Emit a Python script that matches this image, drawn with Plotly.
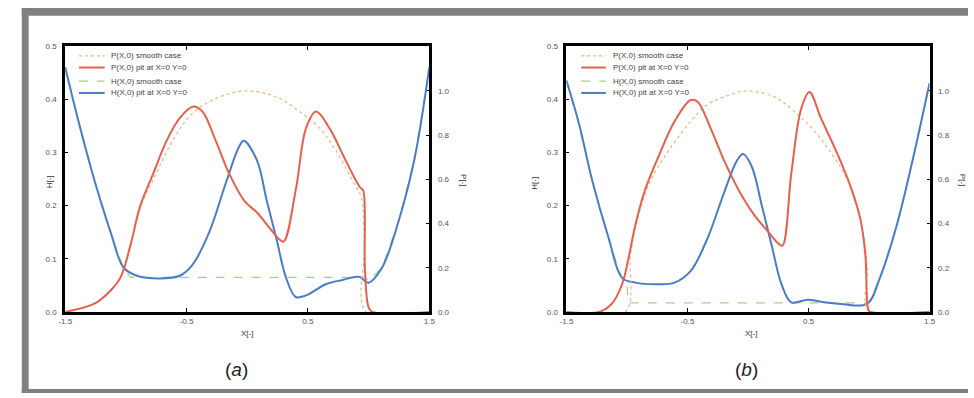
import plotly.graph_objects as go

W, H = 974, 398

# ---------------- data: panel (a) ----------------
a_hpit_x = [-1.5, -1.397, -1.26, -1.126, -1.018, -0.909, -0.72, -0.557, -0.45, -0.313, -0.177, -0.069, -0.03,
            0.08, 0.16, 0.24, 0.32, 0.40, 0.485, 0.647, 0.785, 0.92, 1.0, 1.11, 1.245, 1.38, 1.5]
a_hpit_y = [0.46, 0.364, 0.248, 0.15, 0.083, 0.068, 0.063, 0.068, 0.089, 0.15, 0.242, 0.31, 0.322,
            0.285, 0.21, 0.138, 0.064, 0.028, 0.031, 0.052, 0.06, 0.066, 0.055, 0.083, 0.169, 0.29, 0.46]

a_hsm_x = [-1.5, -1.397, -1.26, -1.126, -1.018, -0.96, 0.97, 1.0, 1.11, 1.245, 1.38, 1.5]
a_hsm_y = [0.46, 0.364, 0.248, 0.15, 0.08, 0.065, 0.065, 0.058, 0.083, 0.169, 0.29, 0.46]

a_ppit_x = [-1.5, -1.26, -1.126, -1.045, -0.963, -0.882, -0.774, -0.665, -0.557, -0.449, -0.37, -0.259, -0.15,
            -0.02, 0.08, 0.19, 0.26, 0.30, 0.40, 0.485, 0.567, 0.676, 0.785, 0.893, 0.933, 0.955, 0.97, 1.0, 1.03, 1.5]
a_ppit_y = [0.0, 0.037, 0.097, 0.155, 0.30, 0.48, 0.627, 0.774, 0.877, 0.929, 0.907, 0.774, 0.627,
            0.50, 0.45, 0.376, 0.33, 0.318, 0.553, 0.833, 0.907, 0.833, 0.715, 0.597, 0.561, 0.55, 0.186, 0.02, 0.0, 0.0]

a_psm_x = [-1.5, -1.26, -1.126, -1.045, -0.963, -0.882, -0.774, -0.584, -0.449, -0.259, -0.02, 0.24, 0.43,
           0.595, 0.73, 0.893, 0.94, 0.965, 0.98, 1.5]
a_psm_y = [0.0, 0.037, 0.097, 0.155, 0.30, 0.47, 0.60, 0.804, 0.90, 0.966, 1.0, 0.973, 0.907,
           0.833, 0.73, 0.568, 0.52, 0.3, 0.0, 0.0]

# ---------------- data: panel (b) ----------------
b_hpit_x = [-1.5, -1.394, -1.288, -1.15, -1.04, -0.93, -0.742, -0.606, -0.473, -0.335, -0.198, -0.09, -0.04,
            0.032, 0.114, 0.195, 0.277, 0.358, 0.494, 0.627, 0.766, 0.983, 1.09, 1.228, 1.36, 1.5]
b_hpit_y = [0.435, 0.352, 0.248, 0.138, 0.064, 0.055, 0.052, 0.055, 0.077, 0.138, 0.224, 0.285, 0.297,
            0.273, 0.2, 0.126, 0.052, 0.018, 0.023, 0.018, 0.015, 0.015, 0.064, 0.162, 0.285, 0.43]

b_hsm_x = [-1.5, -1.394, -1.288, -1.15, -1.04, -1.0, -0.99, 1.0, 1.09, 1.228, 1.36, 1.5]
b_hsm_y = [0.435, 0.35, 0.245, 0.135, 0.062, 0.055, 0.017, 0.017, 0.064, 0.162, 0.285, 0.43]

b_ppit_x = [-1.5, -1.23, -1.125, -1.04, -0.987, -0.932, -0.85, -0.742, -0.606, -0.473, -0.416, -0.31, -0.198,
            -0.04, 0.057, 0.168, 0.25, 0.285, 0.358, 0.44, 0.508, 0.603, 0.739, 0.847, 0.929, 0.97, 0.994, 1.01, 1.5]
b_ppit_y = [0, 0, 0.037, 0.125, 0.243, 0.39, 0.553, 0.70, 0.863, 0.959, 0.951, 0.833, 0.686,
            0.515, 0.435, 0.362, 0.31, 0.30, 0.627, 0.92, 0.995, 0.877, 0.715, 0.568, 0.42, 0.258, 0.01, 0, 0]

b_psm_x = [-1.5, -1.013, -0.97, -0.905, -0.8, -0.636, -0.473, -0.335, -0.198, -0.02, 0.22, 0.413, 0.548,
           0.711, 0.847, 0.95, 0.985, 1.0, 1.5]
b_psm_y = [0, 0, 0.26, 0.435, 0.6, 0.745, 0.863, 0.938, 0.973, 1.0, 0.973, 0.892, 0.819,
           0.70, 0.568, 0.36, 0.2, 0, 0]

legend_names = ["P(X,0) smooth case", "P(X,0) pit at X=0 Y=0",
                "H(X,0) smooth case", "H(X,0) pit at X=0 Y=0"]
x_ticks = [-1.5, -0.5, 0.5, 1.5]
h_ticks = [0.0, 0.1, 0.2, 0.3, 0.4, 0.5]
p_ticks = [0.0, 0.2, 0.4, 0.6, 0.8, 1.0]

C_PSM = "#f5b07c"
C_PPIT = "#e8604c"
C_HSM = "#a6cf8a"
C_HPIT = "#4a7cc8"
STYLES = [(C_PSM, 1.2, "dot"), (C_PPIT, 2, "solid"), (C_HSM, 1.2, "dash"), (C_HPIT, 2, "solid")]

FONT = "Liberation Sans, Arial, sans-serif"


def px(x):
    return x / W


def py(y):
    return 1 - y / H


fig = go.Figure()


def add_panel(xa, ya_l, ya_r, psm, ppit, hsm, hpit):
    fig.add_trace(go.Scatter(x=psm[0], y=psm[1], xaxis=xa, yaxis=ya_r, mode="lines", name=legend_names[0],
                             line=dict(color=C_PSM, width=1.2, dash="dot", shape="spline", smoothing=1.0)))
    fig.add_trace(go.Scatter(x=ppit[0], y=ppit[1], xaxis=xa, yaxis=ya_r, mode="lines", name=legend_names[1],
                             line=dict(color=C_PPIT, width=2, shape="spline", smoothing=1.0)))
    fig.add_trace(go.Scatter(x=hsm[0], y=hsm[1], xaxis=xa, yaxis=ya_l, mode="lines", name=legend_names[2],
                             line=dict(color=C_HSM, width=1.2, dash="dash")))
    fig.add_trace(go.Scatter(x=hpit[0], y=hpit[1], xaxis=xa, yaxis=ya_l, mode="lines", name=legend_names[3],
                             line=dict(color=C_HPIT, width=2, shape="spline", smoothing=1.0)))


add_panel("x", "y", "y2", (a_psm_x, a_psm_y), (a_ppit_x, a_ppit_y), (a_hsm_x, a_hsm_y), (a_hpit_x, a_hpit_y))
add_panel("x2", "y3", "y4", (b_psm_x, b_psm_y), (b_ppit_x, b_ppit_y), (b_hsm_x, b_hsm_y), (b_hpit_x, b_hpit_y))

tickfont = dict(family=FONT, size=8, color="#555")
ydom = [py(315), py(43)]


def xaxis(dom, yanchor):
    return dict(domain=dom, anchor=yanchor, range=[-1.5, 1.5], tickvals=x_ticks,
                ticktext=["-1.5", "-0.5", "0.5", "1.5"], ticks="inside", ticklen=4, tickcolor="black",
                showline=True, linecolor="black", linewidth=3, mirror="ticks", showgrid=False, zeroline=False,
                tickfont=tickfont, layer="below traces")


def yleft(xanchor):
    return dict(domain=ydom, anchor=xanchor, range=[0, 0.5], tickvals=h_ticks,
                ticktext=["0.0", "0.1", "0.2", "0.3", "0.4", "0.5"], ticks="inside", ticklen=3,
                tickcolor="black", showline=True, linecolor="black", linewidth=3, showgrid=False,
                zeroline=False, tickfont=tickfont, layer="below traces", ticklabelstandoff=4)


def yright(overl, xanchor):
    return dict(overlaying=overl, anchor=xanchor, side="right", range=[0, 1.2035], tickvals=p_ticks,
                ticktext=["0.0", "0.2", "0.4", "0.6", "0.8", "1.0"], ticks="inside", ticklen=3,
                tickcolor="black", showline=True, linecolor="black", linewidth=3, showgrid=False,
                zeroline=False, tickfont=tickfont, layer="below traces", ticklabelstandoff=4)


fig.update_layout(
    width=W, height=H, margin=dict(l=0, r=0, t=0, b=0, pad=0),
    paper_bgcolor="white", plot_bgcolor="white",
    font=dict(family=FONT),
    xaxis=xaxis([px(59), px(428)], "y"),
    yaxis=yleft("x"),
    yaxis2=yright("y", "x"),
    xaxis2=xaxis([px(567), px(935)], "y3"),
    yaxis3=yleft("x2"),
    yaxis4=yright("y3", "x2"),
    showlegend=False,
)

# gray frame around the figure
GRAY = "#808080"
for x0, y0, x1, y1 in [(15, 4, 974, 12), (15, 4, 22, 398), (15, 394, 974, 398)]:
    fig.add_shape(type="rect", xref="paper", yref="paper", x0=px(x0), x1=px(x1), y0=py(y1), y1=py(y0),
                  fillcolor=GRAY, line=dict(width=0), layer="below")

# legends (drawn as decoration inside each panel)
legend_rows = [53, 65, 79, 91]
for lx0, lx1, tx in [(73, 99, 103), (582, 607, 612)]:
    for (col, wd, ds), yy, name in zip(STYLES, legend_rows, legend_names):
        fig.add_shape(type="line", xref="paper", yref="paper", x0=px(lx0), x1=px(lx1), y0=py(yy), y1=py(yy),
                      line=dict(color=col, width=wd, dash=ds))
        fig.add_annotation(text=name, xref="paper", yref="paper", x=px(tx), y=py(yy), showarrow=False,
                           xanchor="left", yanchor="middle", font=dict(family=FONT, size=8, color="#444"))

annots = [
    ("X[-]", 243, 337, 0, 8), ("H[-]", 43, 182, -90, 8), ("P[-]", 462, 180, 90, 8),
    ("X[-]", 754, 337, 0, 8), ("H[-]", 535, 183, -90, 8), ("P[-]", 968, 180, 90, 8),
    ("(<i>a</i>)", 233, 374, 0, 19), ("(<i>b</i>)", 750, 374, 0, 19),
]
for t, x, y, ang, sz in annots:
    fig.add_annotation(text=t, xref="paper", yref="paper", x=px(x), y=py(y), showarrow=False,
                       textangle=ang, xanchor="center", yanchor="middle",
                       font=dict(family=FONT, size=sz, color="#333" if sz < 10 else "#222"))

fig.write_html("out.html", config={"displayModeBar": False},
               post_script="document.body.style.margin='0px';document.body.style.overflow='hidden';")
